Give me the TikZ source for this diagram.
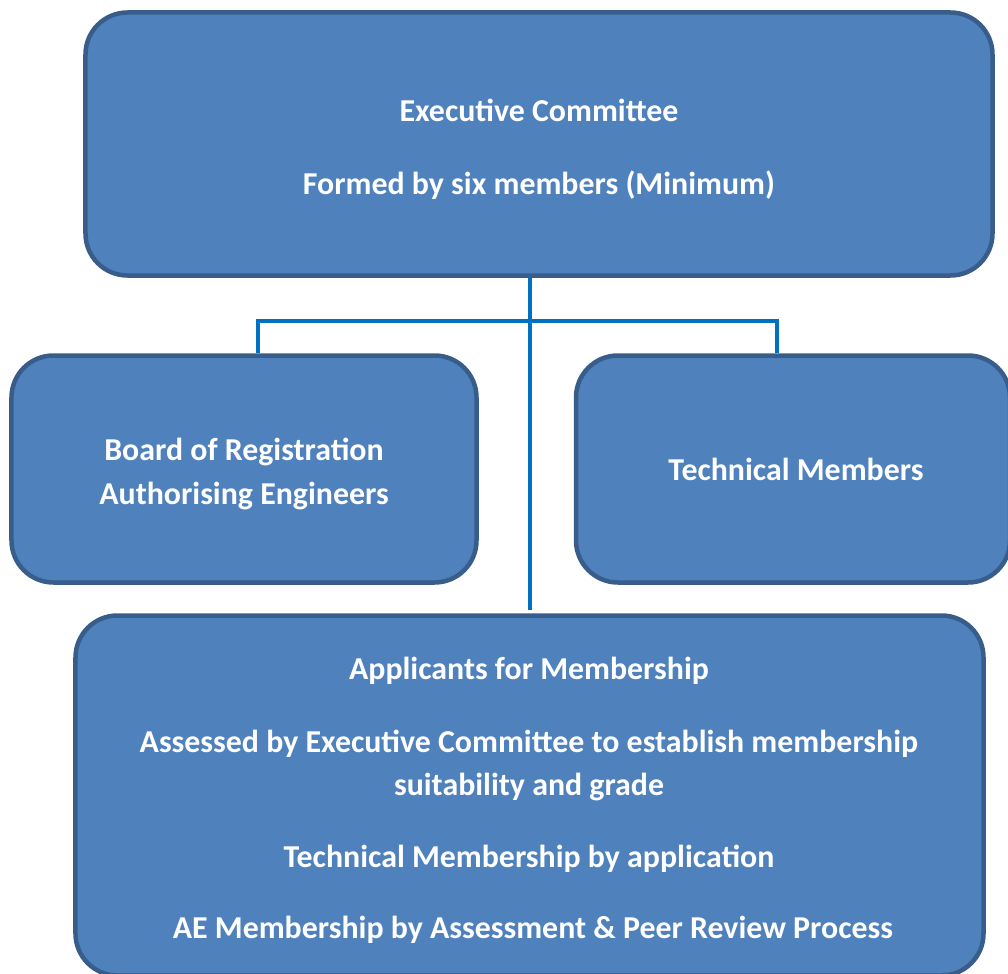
\documentclass[tikz,border=0pt]{standalone}
\usepackage{fontspec}
\setmainfont{Carlito}
\definecolor{boxfill}{HTML}{4F81BD}
\definecolor{boxdraw}{HTML}{385D8A}
\definecolor{connblue}{HTML}{0070C0}
\begin{document}
\begin{tikzpicture}[x=1bp,y=-1bp,
  box/.style={draw=boxdraw, fill=boxfill, line width=4.5bp, rounded corners=42bp, inner sep=0pt},
  lbl/.style={text=white, font=\fontsize{32}{38}\selectfont\bfseries, inner sep=0pt, anchor=base},
  conn/.style={draw=connblue, line width=4bp}]
\useasboundingbox (0,0) rectangle (1008,974);
% boxes
\node[box, minimum width=907bp, minimum height=263bp] (top) at (539,144) {};
\node[box, minimum width=465bp, minimum height=227bp] (left) at (244,469) {};
\node[box, minimum width=434bp, minimum height=227bp] (right) at (793,469) {};
\node[box, minimum width=908bp, minimum height=360bp] (bot) at (529.5,795.5) {};
% connector junctions
\coordinate (jl) at (258,321);
\coordinate (jr) at (777,321);
\coordinate (jm) at (530,610);
\draw[conn] (top.south -| jm) -- (jm);
\draw[conn] (left.north -| jl) -- (jl) -- (jr) -- (right.north -| jr);
% labels
\node[lbl] (t1) at (539,121) {Executive Committee};
\node[lbl] (t2) at (539,194) {Formed by six members (Minimum)};
\node[lbl] (l1) at (244,460) {Board of Registration};
\node[lbl] (l2) at (244,504) {Authorising Engineers};
\node[lbl] (r1) at (796,480) {Technical Members};
\node[lbl] (b1) at (529,679) {Applicants for Membership};
\node[lbl] (b2) at (529,752) {Assessed by Executive Committee to establish membership};
\node[lbl] (b3) at (529,795) {suitability and grade};
\node[lbl] (b4) at (529,867) {Technical Membership by application};
\node[lbl] (b5) at (533,938) {AE Membership by Assessment \& Peer Review Process};
\end{tikzpicture}
\end{document}
